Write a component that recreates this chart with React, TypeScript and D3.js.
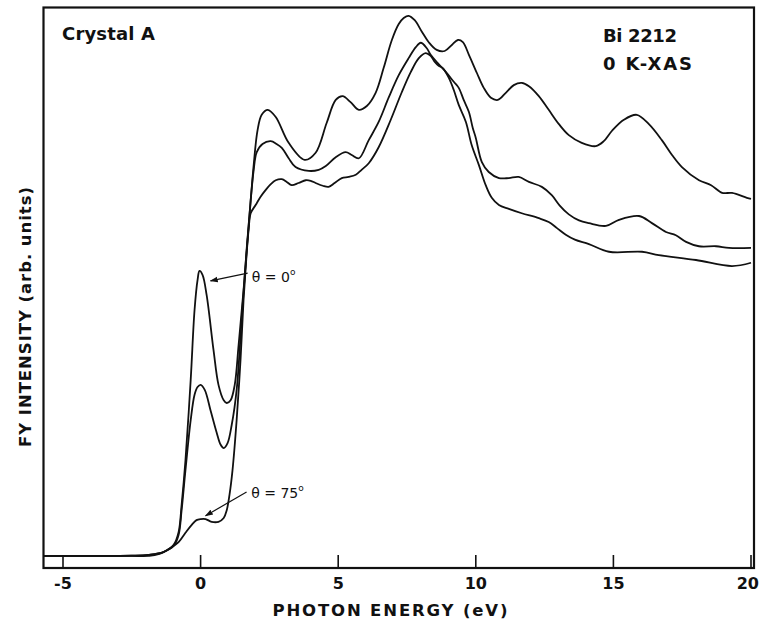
import React from 'react';
import * as d3 from 'd3';

// Photon energy (eV) relative to edge, intensity in arbitrary units
const xTicks = [-5, 0, 5, 10, 15, 20];

const energyA = [-5.7, -4, -2.5, -1.89, -1.35, -0.98, -0.8, -0.69, -0.55, -0.36, -0.22, -0.11, -0.04, 0.07, 0.22, 0.47, 0.65, 0.84, 0.95, 1.09, 1.24, 1.38, 1.56, 1.75, 1.93, 2.07, 2.22, 2.44, 2.73, 3.2, 3.78, 4.18, 4.58, 4.91, 5.16, 5.45, 5.75, 6.04, 6.36, 6.65, 6.95, 7.2, 7.38, 7.56, 7.78, 8.04, 8.29, 8.58, 8.87, 9.13, 9.35, 9.53, 9.75, 10.04, 10.29, 10.55, 10.8, 11.09, 11.38, 11.67, 11.93, 12.29, 12.65, 13.02, 13.38, 13.85, 14.36, 14.65, 14.95, 15.38, 15.85, 16.29, 16.76, 17.13, 17.49, 18.11, 18.55, 18.95, 19.31, 19.85, 20];
const intensityA = [0.2, 0.2, 0.25, 0.4, 0.9, 2.2, 4.5, 9.5, 17.6, 32.2, 44.9, 50.4, 52.0, 51.3, 47.6, 37.6, 31.3, 28.5, 28.0, 28.5, 31.3, 38.5, 48.5, 60.4, 71.3, 77.6, 80.4, 81.3, 80.0, 75.3, 72.2, 73.5, 78.9, 83.1, 83.8, 82.7, 81.3, 82.0, 84.4, 88.9, 94.0, 96.9, 98.0, 98.4, 97.6, 95.5, 93.6, 92.2, 92.0, 93.1, 94.0, 93.6, 91.3, 88.0, 85.3, 83.5, 83.1, 84.4, 85.8, 86.2, 85.6, 83.8, 81.3, 78.7, 76.7, 75.3, 74.7, 75.6, 77.5, 79.5, 80.4, 78.7, 75.8, 73.1, 70.9, 68.5, 67.6, 66.2, 66.2, 65.3, 65.1];

const energyB = [-5.7, -4, -2.5, -1.89, -1.35, -0.98, -0.8, -0.69, -0.55, -0.36, -0.22, -0.11, 0, 0.15, 0.36, 0.58, 0.73, 0.84, 0.98, 1.13, 1.31, 1.49, 1.67, 1.82, 1.93, 2.04, 2.25, 2.55, 2.76, 2.95, 3.2, 3.45, 3.93, 4.29, 4.55, 4.91, 5.27, 5.49, 5.75, 6.11, 6.47, 6.84, 7.2, 7.56, 7.82, 8.0, 8.22, 8.36, 8.65, 8.91, 9.2, 9.38, 9.56, 9.75, 9.89, 10.0, 10.22, 10.47, 10.84, 11.2, 11.56, 11.93, 12.4, 12.76, 13.05, 13.38, 13.75, 14.11, 14.73, 15.2, 15.93, 16.4, 16.91, 17.27, 17.64, 18.11, 18.73, 19.2, 20];
const intensityB = [0.2, 0.2, 0.25, 0.4, 0.9, 2.0, 4.0, 8.5, 15.8, 24.9, 29.5, 30.9, 31.3, 30.4, 26.7, 22.7, 20.4, 19.8, 20.7, 24.0, 30.4, 43.1, 55.8, 64.9, 70.4, 73.6, 75.1, 75.6, 75.1, 74.4, 72.5, 70.9, 70.2, 70.4, 71.1, 72.7, 73.6, 73.1, 72.5, 75.8, 79.1, 83.6, 87.6, 90.7, 92.7, 93.5, 92.5, 91.3, 89.6, 88.2, 86.4, 85.3, 83.1, 80.9, 78.0, 76.2, 71.8, 70.0, 68.9, 68.9, 69.1, 68.2, 67.3, 65.8, 63.9, 62.3, 61.2, 60.7, 60.2, 61.3, 62.0, 60.7, 59.1, 58.5, 57.3, 56.5, 56.5, 56.2, 56.2];

const energyC = [-5.7, -4, -2.5, -1.89, -1.53, -1.05, -0.8, -0.55, -0.33, -0.15, 0, 0.18, 0.4, 0.65, 0.84, 0.95, 1.05, 1.16, 1.31, 1.45, 1.56, 1.67, 1.75, 1.82, 2.0, 2.18, 2.36, 2.55, 2.73, 2.95, 3.13, 3.31, 3.56, 3.82, 4.0, 4.18, 4.44, 4.65, 4.87, 5.13, 5.38, 5.64, 5.85, 6.11, 6.47, 6.91, 7.31, 7.64, 7.93, 8.18, 8.36, 8.51, 8.65, 8.8, 9.02, 9.2, 9.38, 9.64, 9.85, 10.11, 10.36, 10.58, 10.84, 11.2, 11.67, 12.29, 12.65, 12.95, 13.27, 13.6, 14.11, 14.84, 16.04, 16.65, 18.0, 19.31, 20];
const intensityC = [0.2, 0.2, 0.2, 0.2, 0.5, 1.8, 2.7, 4.4, 5.8, 6.7, 6.9, 6.9, 6.4, 6.4, 7.1, 8.5, 11.3, 15.8, 24.9, 35.8, 46.7, 54.9, 59.8, 62.5, 64.0, 65.5, 66.7, 67.8, 68.5, 68.7, 68.2, 67.6, 68.0, 68.5, 68.4, 68.0, 67.5, 67.3, 68.0, 68.9, 69.1, 69.5, 70.4, 71.6, 74.5, 79.5, 84.5, 88.2, 90.7, 91.6, 91.1, 90.0, 89.3, 88.9, 87.1, 84.9, 82.2, 79.1, 74.9, 71.3, 67.6, 65.3, 64.0, 63.3, 62.5, 61.6, 60.9, 59.8, 58.6, 57.7, 56.9, 55.5, 55.5, 54.9, 54.0, 52.9, 53.5];

const seriesList = [
  { name: 'theta0', energy: energyA, intensity: intensityA },
  { name: 'mid', energy: energyB, intensity: intensityB },
  { name: 'theta75', energy: energyC, intensity: intensityC },
];

const W = 760;
const H = 625;

export default function App() {
  const x = d3.scaleLinear().domain([-5, 20]).range([63, 751]);
  const y = d3.scaleLinear().domain([-2, 100]).range([568, 7]);
  const line = d3
    .line<[number, number]>()
    .x((d) => x(d[0]))
    .y((d) => y(d[1]))
    .curve(d3.curveCatmullRom.alpha(0.5));

  const frameL = 43.5;
  const frameR = 754;
  const frameT = 7.5;
  const frameB = 568;

  const font = "'DejaVu Sans', 'Liberation Sans', sans-serif";
  const lastTick = xTicks[xTicks.length - 1];

  return (
    <svg
      width={W}
      height={H}
      viewBox={`0 0 ${W} ${H}`}
      style={{ position: 'absolute', left: 0, top: 0, background: '#fff' }}
    >
      <defs>
        <marker id="arr" viewBox="0 0 10 10" refX="9" refY="5" markerWidth="8" markerHeight="8" orient="auto-start-reverse" markerUnits="userSpaceOnUse">
          <path d="M0,1.5 L10,5 L0,8.5 z" fill="#111" />
        </marker>
      </defs>
      <rect x={0} y={0} width={W} height={H} fill="#fff" />

      {/* curves */}
      {seriesList.map((s) => (
        <path
          key={s.name}
          d={line(s.energy.map((e, i) => [e, s.intensity[i]] as [number, number])) || ''}
          fill="none"
          stroke="#111"
          strokeWidth={1.8}
          strokeLinejoin="round"
        />
      ))}

      {/* frame */}
      <rect x={frameL} y={frameT} width={frameR - frameL} height={frameB - frameT} fill="none" stroke="#111" strokeWidth={2.2} />

      {/* ticks */}
      {xTicks.map((t) => (
        <g key={t}>
          <line x1={x(t)} x2={x(t)} y1={frameB} y2={frameB - 13} stroke="#111" strokeWidth={1.6} />
          <text
            x={t === lastTick ? W - 1 : x(t)}
            y={589}
            textAnchor={t === lastTick ? 'end' : 'middle'}
            fontFamily={font}
            fontWeight="bold"
            fontSize={16}
            fill="#111"
          >
            {t < 0 ? `-${Math.abs(t)}` : t}
          </text>
        </g>
      ))}

      {/* axis titles */}
      <text x={390} y={616} textAnchor="middle" fontFamily={font} fontWeight="bold" fontSize={16.5} fill="#111" textLength={235} lengthAdjust="spacing">
        PHOTON  ENERGY  (eV)
      </text>
      <text
        transform={`translate(31, 317) rotate(-90)`}
        textAnchor="middle"
        fontFamily={font}
        fontWeight="bold"
        fontSize={16.5}
        fill="#111"
        textLength={260}
        lengthAdjust="spacing"
      >
        FY INTENSITY (arb. units)
      </text>

      {/* labels */}
      <text x={62} y={40} fontFamily={font} fontWeight="bold" fontSize={18} fill="#111" textLength={93} lengthAdjust="spacing">
        Crystal A
      </text>
      <text x={603} y={42} fontFamily={font} fontWeight="bold" fontSize={18} fill="#111" textLength={74} lengthAdjust="spacing">
        Bi 2212
      </text>
      <text x={603} y={70} fontFamily={font} fontWeight="bold" fontSize={18} fill="#111" textLength={89} lengthAdjust="spacing">
        0 K-XAS
      </text>

      {/* annotations */}
      <line x1={x(1.71)} y1={y(51.6)} x2={x(0.36)} y2={y(50.2)} stroke="#111" strokeWidth={1.2} markerEnd="url(#arr)" />
      <text x={x(1.86)} y={282} fontFamily={font} fontSize={14} fill="#111">
        θ = 0
        <tspan dy={-7} fontSize={9}>o</tspan>
      </text>
      <line x1={x(1.67)} y1={y(11.8)} x2={x(0.18)} y2={y(7.5)} stroke="#111" strokeWidth={1.2} markerEnd="url(#arr)" />
      <text x={x(1.84)} y={498} fontFamily={font} fontSize={14} fill="#111">
        θ = 75
        <tspan dy={-7} fontSize={9}>o</tspan>
      </text>
    </svg>
  );
}
